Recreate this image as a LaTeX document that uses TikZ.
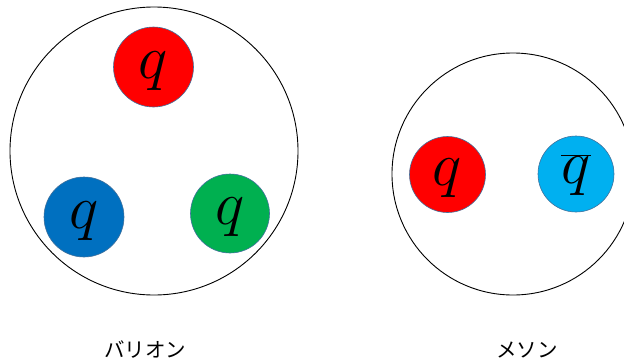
\RequirePackage{fix-cm}
\documentclass[tikz,border=0pt]{standalone}
\usepackage{fontspec}
\newfontfamily\jpfont{Noto Sans CJK JP}
\definecolor{qred}{HTML}{FF0000}
\definecolor{qblue}{HTML}{0070C0}
\definecolor{qgreen}{HTML}{00B050}
\definecolor{qcyan}{HTML}{00B0F0}
\definecolor{qedge}{HTML}{41719C}
\tikzset{
  hadron/.style={circle, draw=black, line width=0.9pt, inner sep=0pt},
  quark/.style={circle, draw=qedge, line width=0.6pt, inner sep=0pt},
  qtext/.style={inner sep=0pt, font=\fontsize{62}{62}\selectfont},
  label/.style={font=\jpfont\fontsize{20.5}{20.5}\selectfont, inner sep=0pt}
}
\begin{document}
\begin{tikzpicture}[x=1pt,y=-1pt]
\useasboundingbox (0,0) rectangle (624,362);
\clip (0,0) rectangle (624,362);
\node[hadron, minimum size=288pt] (baryon) at (154,151) {};
\node[hadron, minimum size=242pt] (meson) at (513,174) {};
\node[quark, fill=qred, minimum size=80pt] (q1) at (153.5,67) {};
\node[quark, fill=qblue, minimum size=80pt] (q2) at (84,217) {};
\node[quark, fill=qgreen, minimum size=79pt] (q3) at (230,213.5) {};
\node[quark, fill=qred, minimum size=76pt] (mq) at (447.5,174.5) {};
\node[quark, fill=qcyan, minimum size=76pt] (maq) at (576,174) {};
\node[qtext] (t1) at ([yshift=-4pt]q1.center) {$q$};
\node[qtext] (t2) at ([yshift=-4pt]q2.center) {$q$};
\node[qtext] (t3) at ([yshift=-4pt]q3.center) {$q$};
\node[qtext] (t4) at ([yshift=-4pt]mq.center) {$q$};
\node[qtext] (t5) at ([yshift=-1pt]maq.center) {$\overline{q}$};
\node[label] (lb) at (145,350) {バリオン};
\node[label] (lm) at (527,350) {メソン};
\end{tikzpicture}
\end{document}
